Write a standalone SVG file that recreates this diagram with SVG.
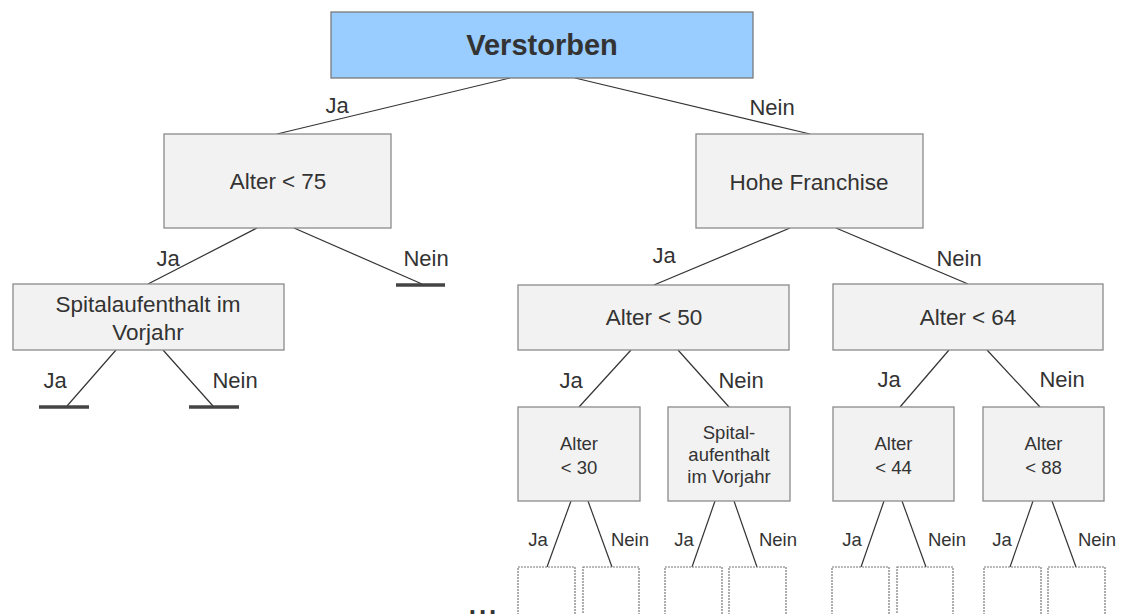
<svg xmlns="http://www.w3.org/2000/svg" width="1121" height="614" viewBox="0 0 1121 614">
<style>
text{font-family:"Liberation Sans",Arial,sans-serif;fill:#333;text-anchor:middle}
.box{fill:#f2f2f2;stroke:#8a8a8a;stroke-width:1.3}
.root{fill:#99ccff;stroke:#7a7a7a;stroke-width:1.3}
.leaf{fill:#fff;stroke:#777;stroke-width:1.2;stroke-dasharray:2 1}
.lbl{font-size:22.5px}
.sm{font-size:18.5px}
.el{font-size:22px}
.es{font-size:18.5px}
.edge line{stroke:#333;stroke-width:1.2}
.edge line.bar{stroke:#444;stroke-width:3.4}
</style>
<g id="connectors" class="edge">
<line x1="510" y1="78" x2="277" y2="134"/>
<line x1="575" y1="78" x2="810" y2="134"/>
<line x1="257" y1="228" x2="148" y2="284"/>
<line x1="294" y1="228" x2="422" y2="284"/>
<line x1="116" y1="350" x2="67" y2="406"/>
<line x1="163" y1="350" x2="213" y2="406"/>
<line x1="790" y1="228" x2="654" y2="285"/>
<line x1="836" y1="228" x2="968" y2="284"/>
<line x1="631" y1="350" x2="579" y2="407"/>
<line x1="678" y1="350" x2="729" y2="407"/>
<line x1="949" y1="350" x2="900" y2="407"/>
<line x1="987" y1="350" x2="1040" y2="407"/>
<line x1="571" y1="501" x2="547" y2="567"/>
<line x1="588" y1="501" x2="612" y2="567"/>
<line x1="715" y1="501" x2="692" y2="567"/>
<line x1="734" y1="501" x2="757" y2="567"/>
<line x1="884" y1="501" x2="861" y2="567"/>
<line x1="902" y1="501" x2="926" y2="567"/>
<line x1="1033" y1="501" x2="1010" y2="567"/>
<line x1="1052" y1="501" x2="1076" y2="567"/>
<line class="bar" x1="396" y1="285" x2="445" y2="285"/>
<line class="bar" x1="39" y1="407" x2="89" y2="407"/>
<line class="bar" x1="189" y1="407" x2="239" y2="407"/>
<text class="el" x="337" y="113">Ja</text>
<text class="el" x="772" y="115">Nein</text>
<text class="el" x="168" y="266">Ja</text>
<text class="el" x="426" y="266">Nein</text>
<text class="el" x="55" y="388">Ja</text>
<text class="el" x="235" y="388">Nein</text>
<text class="el" x="664" y="263">Ja</text>
<text class="el" x="959" y="266">Nein</text>
<text class="el" x="571" y="388">Ja</text>
<text class="el" x="741" y="388">Nein</text>
<text class="el" x="889" y="387">Ja</text>
<text class="el" x="1062" y="387">Nein</text>
<text class="es" x="538" y="546">Ja</text>
<text class="es" x="630" y="546">Nein</text>
<text class="es" x="684" y="546">Ja</text>
<text class="es" x="778" y="546">Nein</text>
<text class="es" x="852" y="546">Ja</text>
<text class="es" x="947" y="546">Nein</text>
<text class="es" x="1002" y="546">Ja</text>
<text class="es" x="1097" y="546">Nein</text>
</g>
<g id="root">
<rect class="root" x="331" y="12" width="422" height="66"/>
<text x="542" y="55" style="font-size:29px;font-weight:bold">Verstorben</text>
</g>
<g id="alter75">
<rect class="box" x="164" y="134" width="227" height="94"/>
<text class="lbl" x="278" y="189">Alter<tspan dx="6">&lt; 75</tspan></text>
</g>
<g id="hohefranchise">
<rect class="box" x="696" y="134" width="227" height="94"/>
<text class="lbl" x="809" y="190">Hohe Franchise</text>
</g>
<g id="spital1">
<rect class="box" x="13" y="284" width="271" height="66"/>
<text class="lbl" x="148" y="312">Spitalaufenthalt im</text>
<text class="lbl" x="148" y="340">Vorjahr</text>
</g>
<g id="alter50">
<rect class="box" x="518" y="285" width="271" height="65"/>
<text class="lbl" x="654" y="325">Alter<tspan dx="6">&lt; 50</tspan></text>
</g>
<g id="alter64">
<rect class="box" x="833" y="284" width="270" height="66"/>
<text class="lbl" x="968" y="325">Alter<tspan dx="6">&lt; 64</tspan></text>
</g>
<g id="alter30">
<rect class="box" x="518" y="407" width="122" height="94"/>
<text class="sm" x="579" y="450">Alter</text>
<text class="sm" x="579" y="474">&lt; 30</text>
</g>
<g id="spital2">
<rect class="box" x="668" y="407" width="122" height="94"/>
<text class="sm" x="729" y="439">Spital-</text>
<text class="sm" x="729" y="461">aufenthalt</text>
<text class="sm" x="729" y="483">im Vorjahr</text>
</g>
<g id="alter44">
<rect class="box" x="833" y="407" width="121" height="94"/>
<text class="sm" x="893.5" y="450">Alter</text>
<text class="sm" x="893.5" y="474">&lt; 44</text>
</g>
<g id="alter88">
<rect class="box" x="983" y="407" width="121" height="94"/>
<text class="sm" x="1043.5" y="450">Alter</text>
<text class="sm" x="1043.5" y="474">&lt; 88</text>
</g>
<g id="leaves">
<rect class="leaf" x="518" y="567" width="57" height="60"/>
<rect class="leaf" x="583" y="567" width="56" height="60"/>
<rect class="leaf" x="665" y="567" width="57" height="60"/>
<rect class="leaf" x="729" y="567" width="57" height="60"/>
<rect class="leaf" x="832" y="567" width="57" height="60"/>
<rect class="leaf" x="897" y="567" width="56" height="60"/>
<rect class="leaf" x="984" y="567" width="57" height="60"/>
<rect class="leaf" x="1048" y="567" width="57" height="60"/>
</g>
<text x="484" y="614" style="font-size:26px;font-weight:bold;letter-spacing:3px">...</text>
</svg>
